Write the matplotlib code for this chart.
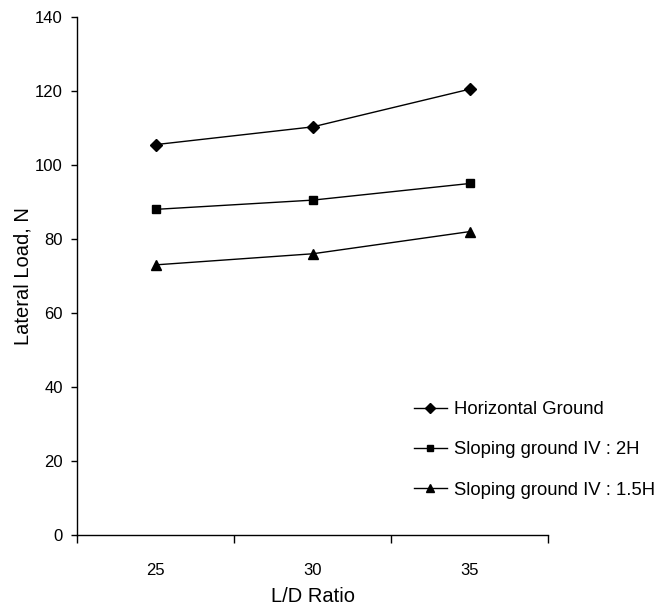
import matplotlib
matplotlib.use("Agg")
from matplotlib import pyplot as plt
from matplotlib.ticker import FixedLocator, NullFormatter

plt.rcParams['font.family'] = ['Liberation Sans', 'DejaVu Sans']

# ─── data ──────────────────────────────────────────────────────────────────
ld_ratio = ["25", "30", "35"]
horizontal = [105.5, 110.3, 120.5]
sloping_2h = [88.0, 90.5, 95.0]
sloping_15h = [73.0, 76.0, 82.0]
series_labels = ["Horizontal Ground", "Sloping ground IV : 2H", "Sloping ground IV : 1.5H"]

fig = plt.figure(figsize=(6.6, 6.06), dpi=100)
ax = fig.add_axes([0.1167, 0.1172, 0.831 - 0.1167, 0.972 - 0.1172])

x = range(len(ld_ratio))
ax.plot(x, horizontal, color='black', lw=1, marker='D', ms=6.5, label=series_labels[0])
ax.plot(x, sloping_2h, color='black', lw=1, marker='s', ms=6, label=series_labels[1])
ax.plot(x, sloping_15h, color='black', lw=1, marker='^', ms=7, label=series_labels[2])

# Excel-like category axis: ticks between categories, labels centred
ax.set_xlim(-0.5, len(ld_ratio) - 0.5)
ax.xaxis.set_major_locator(FixedLocator([i - 0.5 for i in range(len(ld_ratio) + 1)]))
ax.xaxis.set_major_formatter(NullFormatter())
ax.xaxis.set_minor_locator(FixedLocator(list(x)))
ax.set_xticklabels(ld_ratio, minor=True)
ax.tick_params(axis='x', which='major', direction='out', length=6, width=1)
ax.tick_params(axis='x', which='minor', length=0, pad=20, labelsize=12)

ax.set_ylim(0, 140)
ax.set_yticks(range(0, 141, 20))
ax.tick_params(axis='y', direction='out', length=4.3, width=1, labelsize=12, pad=6)

for side in ('top', 'right'):
    ax.spines[side].set_visible(False)
for side in ('left', 'bottom'):
    ax.spines[side].set_linewidth(1)

ax.set_xlabel("L/D Ratio", fontsize=14.5, labelpad=6.5)
ax.set_ylabel("Lateral Load, N", fontsize=14.5, labelpad=2)

ax.legend(loc='upper left', bbox_to_anchor=(0.714, 0.258), frameon=False,
          fontsize=13.3, handlelength=1.8, handletextpad=0.4, labelspacing=1.25,
          markerscale=0.75, borderpad=0, borderaxespad=0)

fig.savefig("out.png", dpi=100)
